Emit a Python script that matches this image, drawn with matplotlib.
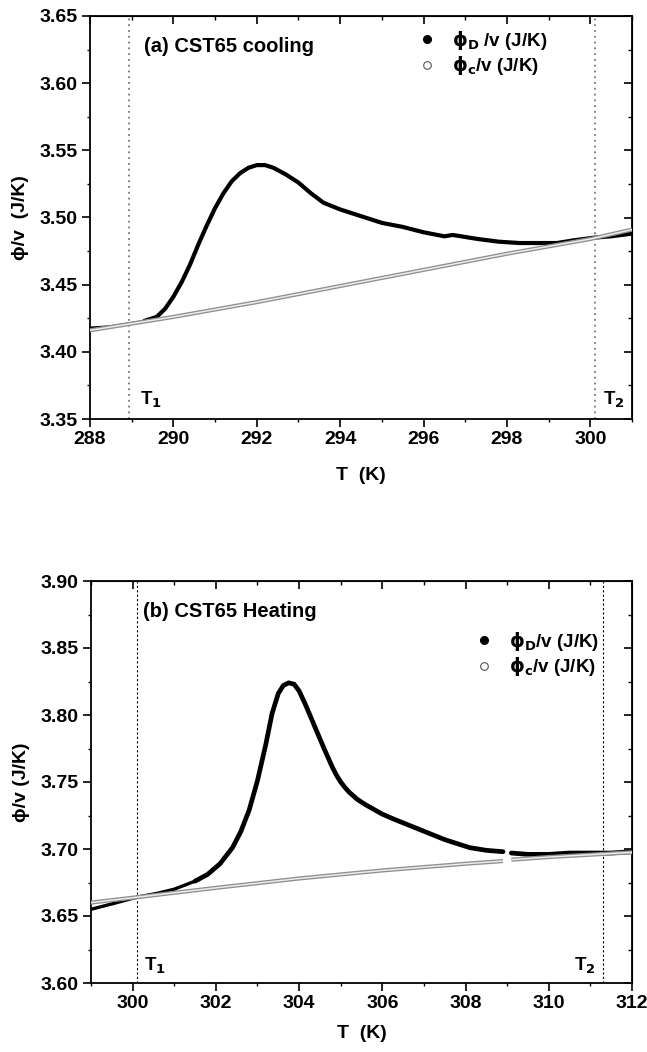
import numpy as np
import matplotlib
matplotlib.use("Agg")
import matplotlib.pyplot as plt
from matplotlib.lines import Line2D
from matplotlib.ticker import MultipleLocator, FormatStrFormatter

plt.rcParams['font.family'] = ['Liberation Sans', 'DejaVu Sans']
plt.rcParams['font.weight'] = 'bold'
plt.rcParams['mathtext.fontset'] = 'dejavusans'
plt.rcParams['mathtext.default'] = 'bf'

# ---------------- data: (a) cooling ----------------
cool_T = [288.0, 288.5, 288.9, 289.3, 289.6, 289.8, 290.0, 290.2, 290.4, 290.6,
          290.8, 291.0, 291.2, 291.4, 291.6, 291.8, 292.0, 292.2, 292.4, 292.7,
          293.0, 293.3, 293.6, 294.0, 294.5, 295.0, 295.5, 296.0, 296.5, 296.7,
          296.9, 297.3, 297.8, 298.3, 298.8, 299.2, 299.6, 300.1, 300.5, 301.0]
cool_phiD = [3.418, 3.419, 3.421, 3.423, 3.426, 3.432, 3.441, 3.452, 3.465, 3.480,
             3.494, 3.507, 3.518, 3.527, 3.533, 3.537, 3.539, 3.539, 3.537, 3.532,
             3.526, 3.518, 3.511, 3.506, 3.501, 3.496, 3.493, 3.489, 3.486, 3.487,
             3.486, 3.484, 3.482, 3.481, 3.481, 3.481, 3.483, 3.485, 3.486, 3.488]
cool_Tc = [288.0, 289.0, 290.0, 292.0, 294.0, 296.0, 298.0, 300.0, 301.0]
cool_phiC = [3.416, 3.421, 3.426, 3.437, 3.449, 3.461, 3.473, 3.484, 3.491]
cool_T1, cool_T2 = 288.93, 300.11

# ---------------- data: (b) heating ----------------
heat_T = [299.0, 299.5, 300.1, 300.6, 301.0, 301.5, 301.8, 302.1, 302.4, 302.6,
          302.8, 303.0, 303.2, 303.35, 303.5, 303.62, 303.75, 303.88, 304.0, 304.15,
          304.3, 304.45, 304.6, 304.7, 304.8, 304.9, 305.0, 305.1, 305.2, 305.4,
          305.6, 305.8, 306.0, 306.3, 306.7, 307.1, 307.5, 307.8, 308.1, 308.5,
          308.9, np.nan, 309.1, 309.5, 310.0, 310.5, 311.0, 311.5, 312.0]
heat_phiD = [3.655, 3.659, 3.664, 3.667, 3.670, 3.676, 3.681, 3.689, 3.701, 3.713,
             3.729, 3.751, 3.778, 3.801, 3.816, 3.822, 3.824, 3.823, 3.818, 3.808,
             3.797, 3.786, 3.775, 3.768, 3.761, 3.755, 3.750, 3.746, 3.7425, 3.737,
             3.733, 3.7295, 3.726, 3.722, 3.717, 3.712, 3.707, 3.704, 3.701, 3.699,
             3.698, np.nan, 3.697, 3.696, 3.696, 3.697, 3.697, 3.697, 3.698]
heat_Tc = [299.0, 300.1, 302.0, 304.0, 306.0, 308.0, 308.9, np.nan, 309.1, 310.0, 312.0]
heat_phiC = [3.660, 3.664, 3.671, 3.678, 3.684, 3.689, 3.691, np.nan, 3.692, 3.694, 3.6975]
heat_T1, heat_T2 = 300.11, 311.31

W, H = 647, 1052
fig = plt.figure(figsize=(W / 100, H / 100), dpi=100)
TICK_FS = 14


def make_axes(rect, xlim, ylim, xmaj, ymaj):
    ax = fig.add_axes(rect)
    ax.set_xlim(*xlim)
    ax.set_ylim(*ylim)
    ax.xaxis.set_major_locator(MultipleLocator(xmaj))
    ax.xaxis.set_minor_locator(MultipleLocator(xmaj / 2))
    ax.yaxis.set_major_locator(MultipleLocator(ymaj))
    ax.yaxis.set_minor_locator(MultipleLocator(ymaj / 2))
    ax.yaxis.set_major_formatter(FormatStrFormatter('%.2f'))
    ax.xaxis.set_major_formatter(FormatStrFormatter('%d'))
    for s in ax.spines.values():
        s.set_linewidth(1.3)
    ax.tick_params(which='major', direction='out', length=6, width=1.2,
                   labelsize=TICK_FS, pad=3)
    ax.tick_params(which='minor', direction='out', length=2.5, width=1.0)
    for lab in ax.get_xticklabels() + ax.get_yticklabels():
        lab.set_fontweight('bold')
    # mirrored ticks (inward) on top and right
    top = ax.secondary_xaxis('top')
    top.xaxis.set_major_locator(MultipleLocator(xmaj))
    top.xaxis.set_minor_locator(MultipleLocator(xmaj / 2))
    top.tick_params(which='major', direction='in', length=6, width=1.2, labeltop=False)
    top.tick_params(which='minor', direction='in', length=3, width=1.0)
    right = ax.secondary_yaxis('right')
    right.yaxis.set_major_locator(MultipleLocator(ymaj))
    right.yaxis.set_minor_locator(MultipleLocator(ymaj / 2))
    right.tick_params(which='major', direction='in', length=6, width=1.2, labelright=False)
    right.tick_params(which='minor', direction='in', length=3, width=1.0)
    return ax


def draw_phiC(ax, T, v):
    ax.plot(T, v, color='#8f8f8f', lw=3.0, solid_capstyle='butt', zorder=4)
    ax.plot(T, v, color='#ececec', lw=1.1, solid_capstyle='butt', zorder=5)


def add_legend(ax, labels, anchor):
    handles = [
        Line2D([], [], ls='none', marker='o', ms=5.5, mfc='black', mec='black'),
        Line2D([], [], ls='none', marker='o', ms=5.5, mfc='white', mec='#555555', mew=0.8),
    ]
    leg = ax.legend(handles, labels, loc='upper left', bbox_to_anchor=anchor,
                    frameon=False, handlelength=1.0, handletextpad=0.8,
                    labelspacing=0.12, borderpad=0, borderaxespad=0,
                    prop={'family': 'Liberation Sans', 'weight': 'bold', 'size': 13.5})
    return leg


# ---------------- panel (a) ----------------
axA = make_axes([90 / W, 1 - 419 / H, 542 / W, 403 / H], (288, 301), (3.35, 3.65), 2, 0.05)
axA.plot(cool_T[:4], cool_phiD[:4], color='black', lw=1.6, solid_capstyle='round', zorder=3)
axA.plot(cool_T[3:], cool_phiD[3:], color='black', lw=3.0, solid_capstyle='round', zorder=3)
draw_phiC(axA, cool_Tc, cool_phiC)
axA.axvline(cool_T1, color='#777777', ls=(0, (1, 2.2)), lw=1.3, zorder=2)
axA.axvline(cool_T2, color='#777777', ls=(0, (1, 2.2)), lw=1.3, zorder=2)
axA.text(289.2, 3.3605, r'T$_1$', fontsize=13.5, fontweight='bold', va='baseline')
axA.text(300.3, 3.3605, r'T$_2$', fontsize=13.5, fontweight='bold', va='baseline')
axA.text(289.3, 3.627, '(a) CST65 cooling', fontsize=14.5, fontweight='bold', va='center')
add_legend(axA, [r'$\phi_D$ /v (J/K)', r'$\phi_c$/v (J/K)'], (0.605, 0.968))
axA.set_xlabel('T  (K)', fontsize=14, fontweight='bold')
axA.set_ylabel('ϕ/v  (J/K)', fontsize=14, fontweight='bold')
axA.xaxis.set_label_coords(0.5, -0.118)
axA.yaxis.set_label_coords(-0.113, 0.5)

# ---------------- panel (b) ----------------
axB = make_axes([91 / W, 1 - 983 / H, 541 / W, 402 / H], (299, 312), (3.60, 3.90), 2, 0.05)
axB.plot(heat_T[:6], heat_phiD[:6], color='black', lw=2.4, solid_capstyle='round', zorder=3)
axB.plot(heat_T[5:], heat_phiD[5:], color='black', lw=3.4, solid_capstyle='round', zorder=3)
draw_phiC(axB, heat_Tc, heat_phiC)
axB.axvline(heat_T1, color='black', ls=(0, (2, 2)), lw=0.8, zorder=2)
axB.axvline(heat_T2, color='black', ls=(0, (2, 2)), lw=0.8, zorder=2)
axB.text(300.27, 3.609, r'T$_1$', fontsize=13.5, fontweight='bold', va='baseline')
axB.text(310.6, 3.609, r'T$_2$', fontsize=13.5, fontweight='bold', va='baseline')
axB.text(300.24, 3.877, '(b) CST65 Heating', fontsize=14.5, fontweight='bold', va='center')
add_legend(axB, [r'$\phi_D$/v (J/K)', r'$\phi_c$/v (J/K)'], (0.71, 0.878))
axB.set_xlabel('T  (K)', fontsize=14, fontweight='bold')
axB.set_ylabel('ϕ/v (J/K)', fontsize=14, fontweight='bold')
axB.xaxis.set_label_coords(0.5, -0.105)
axB.yaxis.set_label_coords(-0.113, 0.5)

fig.savefig('out.png', dpi=100)
